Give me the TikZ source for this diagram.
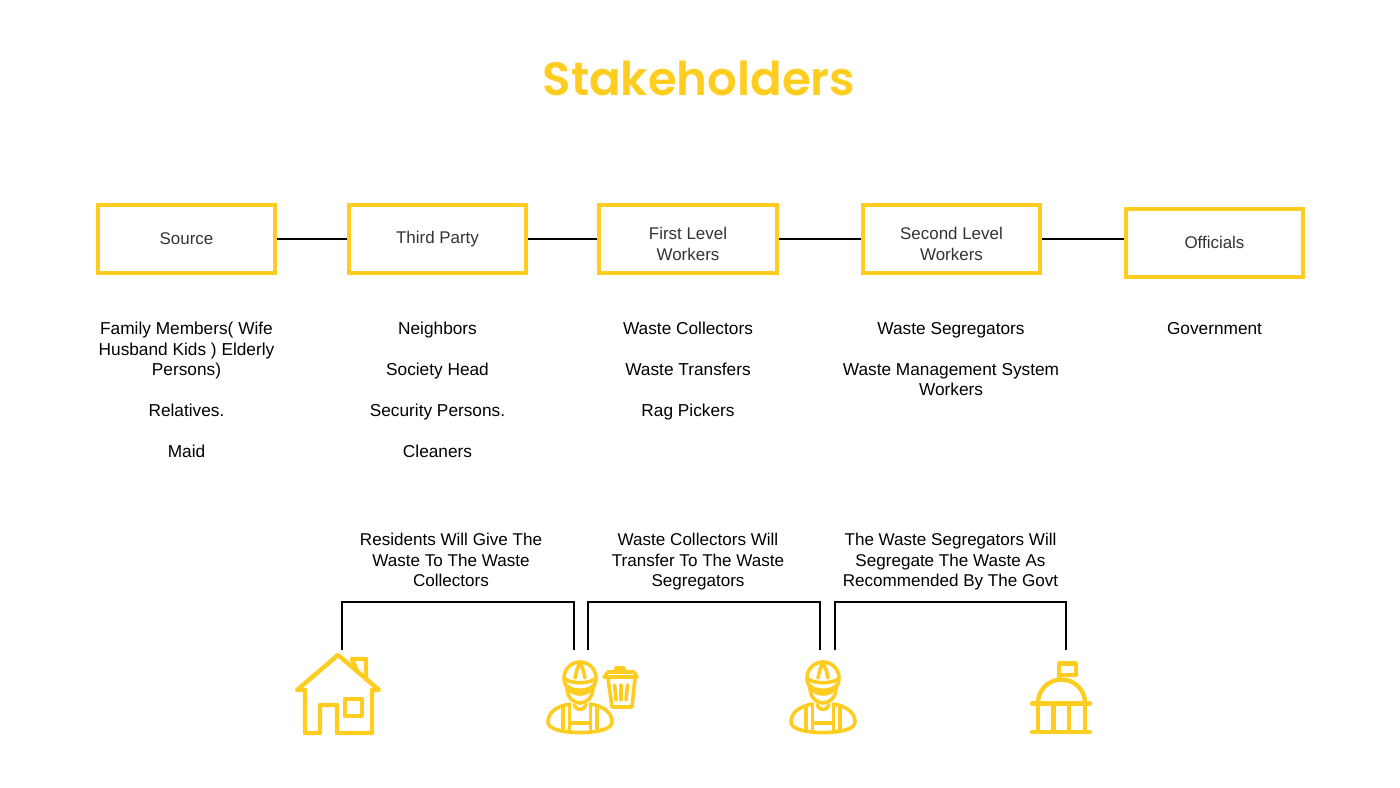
\documentclass[tikz,border=0pt]{standalone}
\usepackage{fontspec}
\setmainfont{Liberation Sans}
\newfontfamily\titlefont{Poppins SemiBold}
\definecolor{ylw}{HTML}{FFCD1F}
\definecolor{boxtxt}{HTML}{333333}
\newcommand{\lowerline}{\rule{0pt}{16.5pt}}
\begin{document}
\begin{tikzpicture}[x=0.75pt,y=-0.75pt,
  stagebox/.style={draw=ylw,line width=3pt,minimum width=133pt,minimum height=50.5pt,inner sep=0pt,align=center,text=boxtxt,font=\fontsize{12.7}{15.4}\selectfont},
  lbl/.style={align=center,text=black,inner sep=0pt,font=\fontsize{12.95}{15.4}\selectfont},
  note/.style={align=center,text=black,inner sep=0pt,font=\fontsize{12.8}{15.4}\selectfont},
  link/.style={draw=black,line width=1.2pt},
  bracket/.style={draw=black,line width=1.9pt,miter limit=10},
  icon/.style={draw=ylw,line width=3.3pt,line cap=round,line join=round,fill=none},
  thin icon/.style={draw=ylw,line width=2.7pt,line cap=round,line join=round,fill=none},
  worker/.pic={
    \draw[thin icon] (0,0) circle (16);
    \draw[thin icon] (-15,1) .. controls (-8,6) and (8,6) .. (15,1);
    \draw[thin icon] (-14,7) .. controls (-8,14) and (8,14) .. (14,7);
    \draw[thin icon] (-5,0) .. controls (-4,-6) and (-2,-12) .. (0,-15) .. controls (2,-12) and (4,-6) .. (5,0);
    \draw[thin icon] (-13,10) .. controls (-13,19) and (-7,25) .. (0,25) .. controls (7,25) and (13,19) .. (13,10);
    \draw[thin icon] (-10,26) .. controls (-24,28) and (-32,35) .. (-32,44) .. controls (-32,51) and (-18,54.5) .. (0,54.5) .. controls (18,54.5) and (32,51) .. (32,44) .. controls (32,35) and (24,28) .. (10,26);
    \draw[thin icon] (-6,27) .. controls (-4,33) and (4,33) .. (6,27);
    \draw[thin icon] (-10.5,27) -- (-10.5,54) (10.5,27) -- (10.5,54) (-17,29) -- (-17,53) (17,29) -- (17,53) (-10.5,45) -- (10.5,45);
  }]
\useasboundingbox (0,0) rectangle (1400,788);
\fill[white] (0,0) rectangle (1400,788);

\node[inner sep=0pt,text=ylw,font=\titlefont\fontsize{35}{40}\selectfont] (title) at (699,78) {Stakeholders};

\node[stagebox] (source) at (186.5,239) {\raisebox{-1.5pt}{Source}};
\node[stagebox] (third) at (437.5,239) {\raisebox{-1.5pt}{Third Party}};
\node[stagebox] (first) at (688,239) {\lowerline First Level\\Workers};
\node[stagebox] (second) at (951.5,239) {\lowerline Second Level\\Workers};
\node[stagebox] (officials) at (1214.5,243) {\raisebox{0.5pt}{Officials}};

\draw[link] (source.east) -- (third.west);
\draw[link] (third.east) -- (first.west);
\draw[link] (first.east) -- (second.west);
\draw[link] (second.east) -- (second.east -| officials.west);

\node[lbl,anchor=north] (l1) at (186.5,322) {Family Members( Wife\\Husband Kids ) Elderly\\Persons)\\[15.2pt]Relatives.\\[15.2pt]Maid};
\node[lbl,anchor=north] (l2) at (437.5,322) {Neighbors\\[15.2pt]Society Head\\[15.2pt]Security Persons.\\[15.2pt]Cleaners};
\node[lbl,anchor=north] (l3) at (688,322) {Waste Collectors\\[15.2pt]Waste Transfers\\[15.2pt]Rag Pickers};
\node[lbl,anchor=north] (l4) at (951,322) {Waste Segregators\\[15.2pt]Waste Management System\\Workers};
\node[lbl,anchor=north] (l5) at (1214.5,322) {Government};

\node[note,anchor=north] (n1) at (451,533) {Residents Will Give The\\Waste To The Waste\\Collectors};
\node[note,anchor=north] (n2) at (698,533) {Waste Collectors Will\\Transfer To The Waste\\Segregators};
\node[note,anchor=north] (n3) at (950.5,533) {The Waste Segregators Will\\Segregate The Waste As\\Recommended By The Govt};

\coordinate (house) at (342,650);
\coordinate (wa) at (574,650);
\coordinate (wb) at (588,650);
\coordinate (wc) at (820,650);
\coordinate (wd) at (835,650);
\coordinate (gov) at (1066,650);
\draw[bracket] (house) -- ++(0,-48) -| (wa);
\draw[bracket] (wb) -- ++(0,-48) -| (wc);
\draw[bracket] (wd) -- ++(0,-48) -| (gov);

% house
\draw[icon] (297,690) -- (338,655) -- (379,690) -- (372,690) -- (372,733) -- (337,733) -- (337,705) -- (320,705) -- (320,733) -- (305,733) -- (305,690) -- cycle;
\draw[icon] (357,671) -- (352,659) -- (366,659) -- (366,679);
\draw[icon] (345,699) rectangle (362,716);

% workers
\pic at (580,678) {worker};
\pic at (823,678) {worker};

% bin
\draw[thin icon] (604,677) -- (608,672) -- (634,672) -- (637,677) -- cycle;
\draw[thin icon] (616,672) -- (616,668) -- (624,668) -- (624,672);
\draw[thin icon] (608,678) -- (612,707) -- (632,707) -- (635,678);
\draw[thin icon] (614.5,685) -- (616,700) (621,685) -- (621,700) (627.5,685) -- (626,700);

% government building
\draw[icon] (1059,680) -- (1059,663.5) -- (1076,663.5) -- (1076,675) -- (1059,675);
\draw[icon] (1038,703) arc (180:360:23.5);
\draw[icon] (1032,703.5) -- (1090,703.5) (1032,732) -- (1090,732);
\draw[icon] (1038,704) -- (1038,732) (1053.5,704) -- (1053.5,732) (1069,704) -- (1069,732) (1085,704) -- (1085,732);
\end{tikzpicture}
\end{document}
